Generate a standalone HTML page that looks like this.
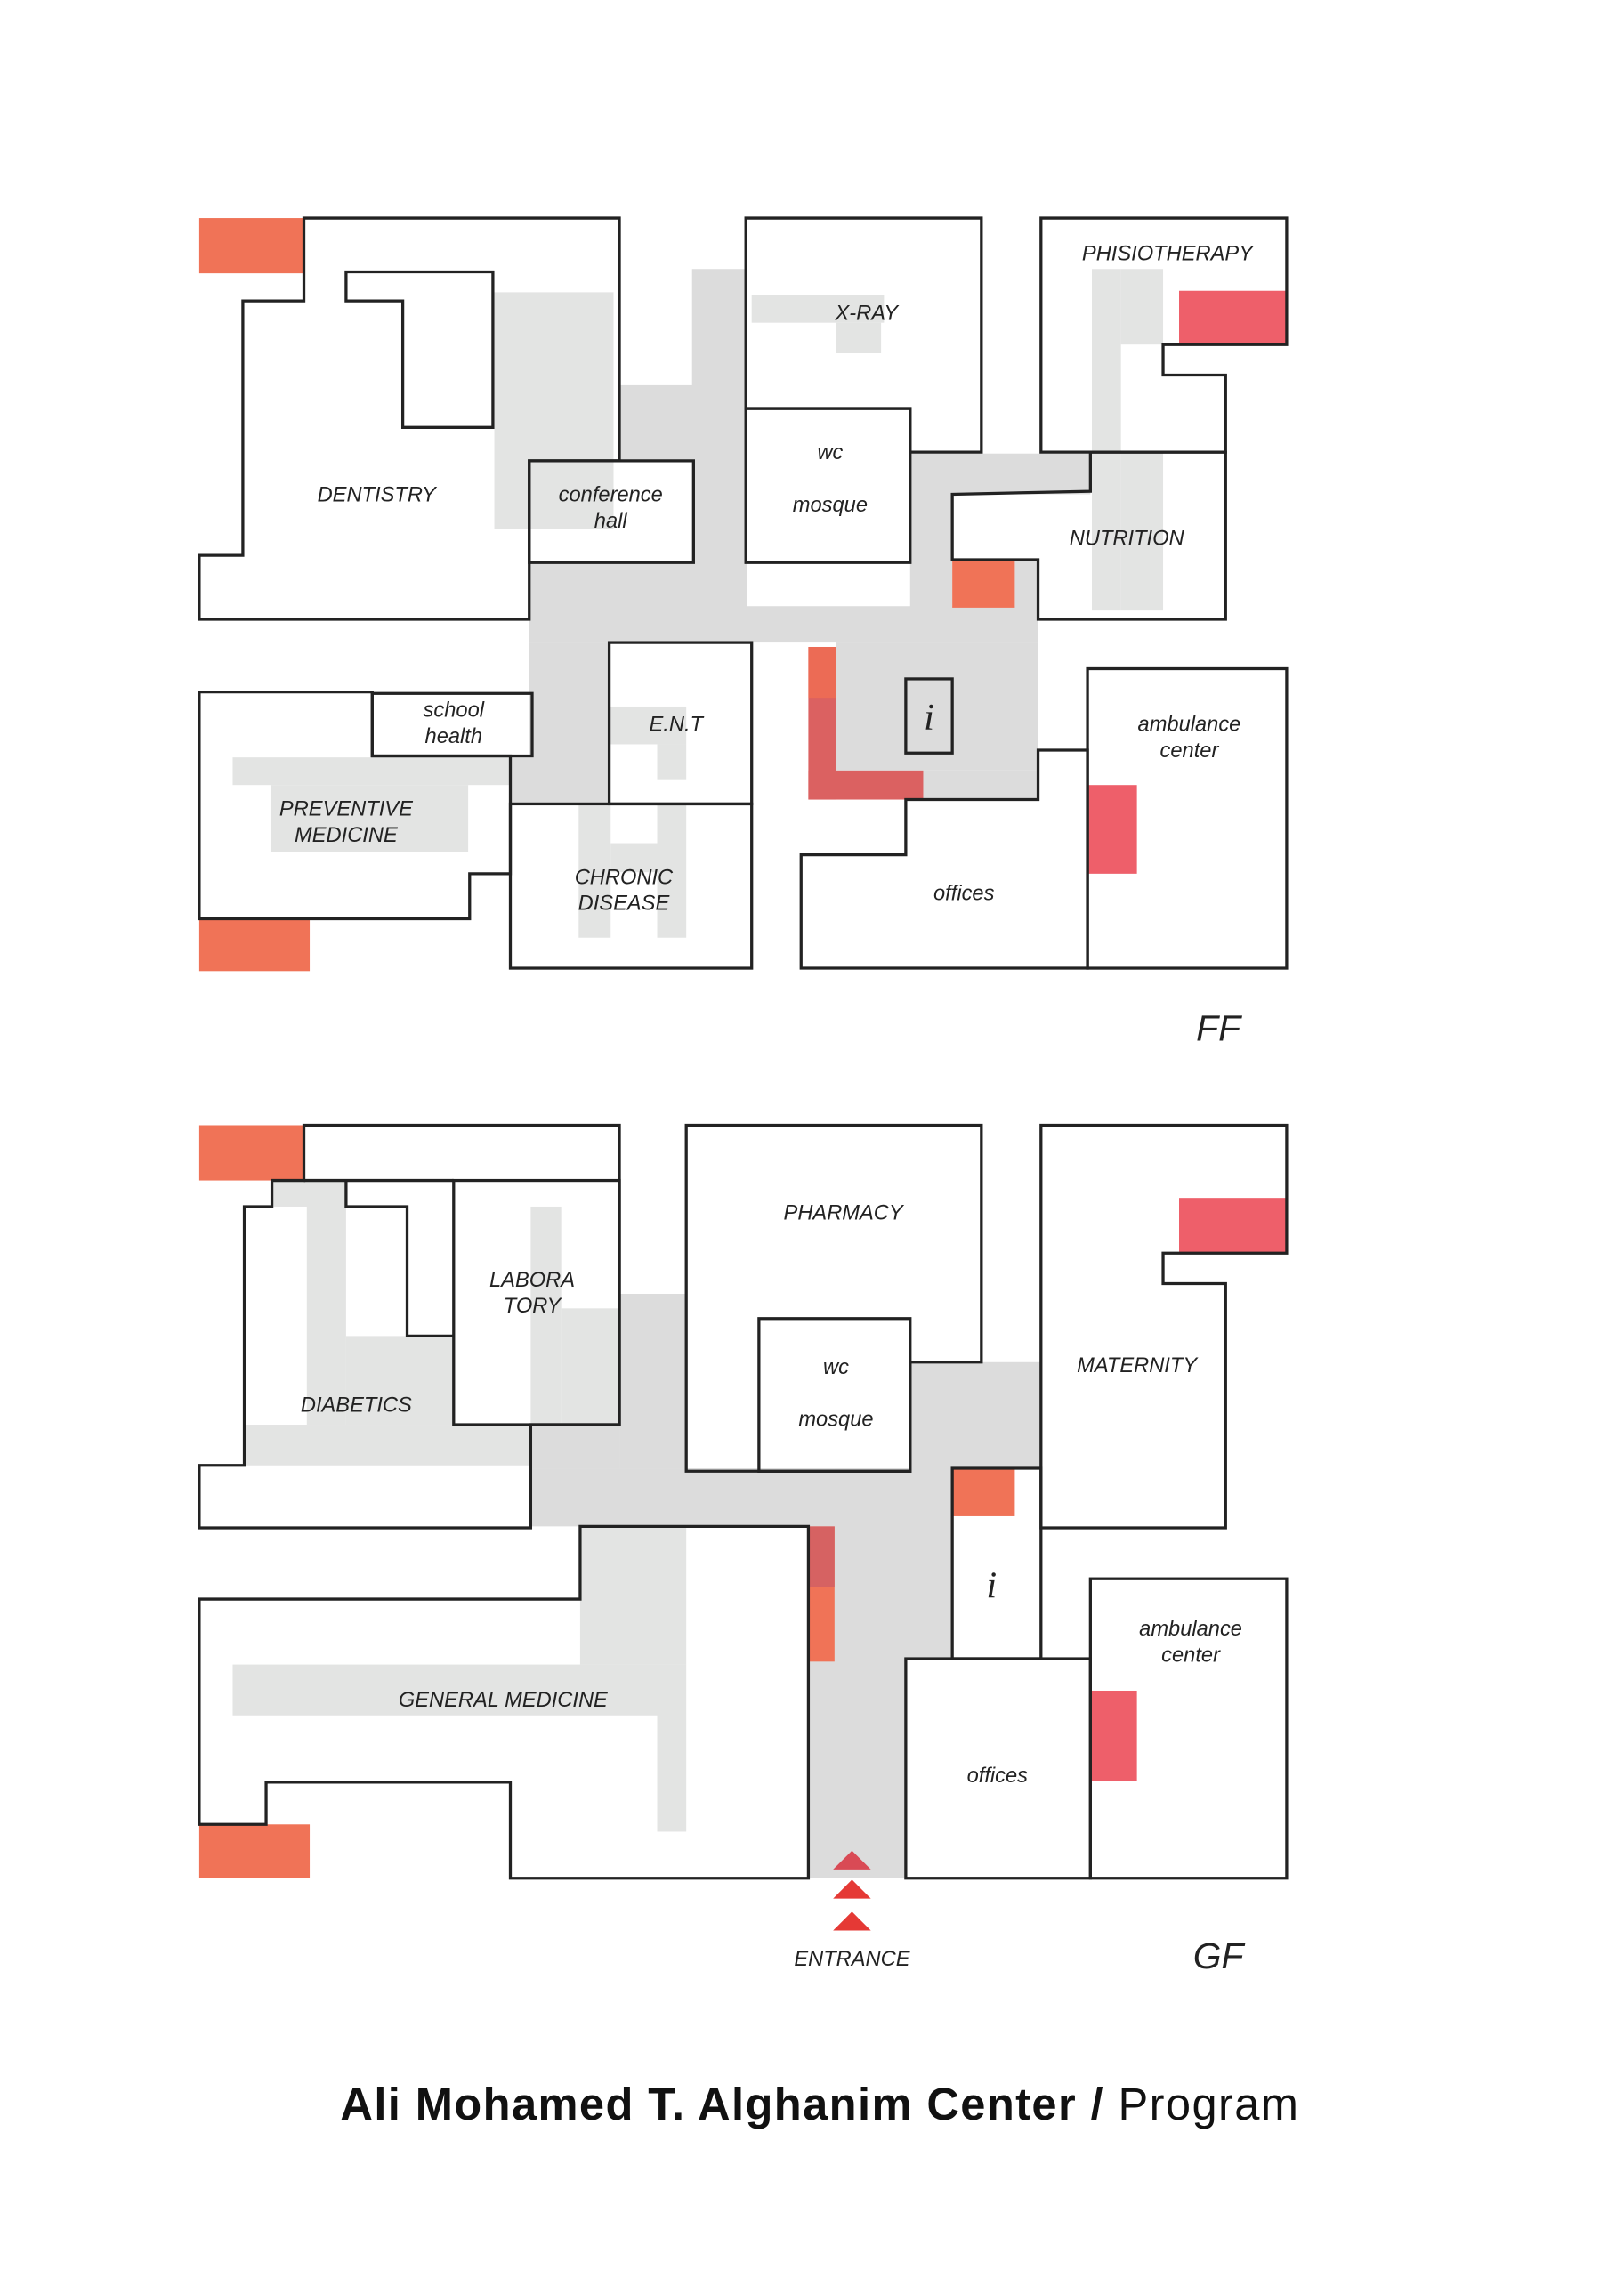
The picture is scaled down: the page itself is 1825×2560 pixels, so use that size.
<!DOCTYPE html>
<html><head><meta charset="utf-8"><style>html,body{margin:0;padding:0;background:#fff}svg{display:block}</style></head>
<body>
<svg width="1825" height="2560" viewBox="0 0 1117 1567" xmlns="http://www.w3.org/2000/svg" font-family="'Liberation Sans', sans-serif">
<rect width="1117" height="1567" fill="#fff"/>
<!-- ===== FF gray ===== -->
<g fill="#dcdcdc">
<rect x="340" y="201" width="82" height="163" fill="#e3e4e3"/>
<rect x="426" y="265" width="52" height="52"/>
<rect x="476" y="185" width="38" height="235"/>
<rect x="364" y="387" width="150" height="55"/>
<rect x="514" y="417" width="200" height="25"/>
<rect x="364" y="442" width="55" height="111"/>
<rect x="351" y="520" width="68" height="33"/>
<rect x="626" y="312" width="124" height="28"/>
<rect x="626" y="340" width="29" height="80"/>
<rect x="575" y="442" width="139" height="88"/>
<rect x="635" y="530" width="79" height="20"/>
<rect x="698" y="385" width="16" height="35"/>
</g>
<g fill="#e3e4e3">
<rect x="517" y="203" width="91" height="19"/>
<rect x="575" y="222" width="31" height="21"/>
<rect x="751" y="185" width="20" height="235"/>
<rect x="771" y="185" width="29" height="52"/>
<rect x="771" y="311" width="29" height="109"/>
<rect x="160" y="521" width="191" height="19"/>
<rect x="186" y="540" width="136" height="46"/>
<rect x="419" y="486" width="53" height="26"/>
<rect x="452" y="512" width="20" height="24"/>
<rect x="398" y="553" width="22" height="92"/>
<rect x="452" y="553" width="20" height="92"/>
<rect x="420" y="580" width="32" height="20"/>
</g>
<rect x="137" y="150" width="72" height="38" fill="#f07357"/>
<rect x="811" y="200" width="74" height="37" fill="#ee5f6a"/>
<rect x="655" y="385" width="43" height="33" fill="#f07357"/>
<rect x="137" y="632" width="76" height="36" fill="#f07357"/>
<rect x="556" y="445" width="19" height="105" fill="#db6161"/>
<rect x="556" y="530" width="79" height="20" fill="#db6161"/>
<rect x="556" y="445" width="19" height="35" fill="#ec6b55"/>
<rect x="748" y="540" width="34" height="61" fill="#ee5f6a"/>
<g fill="none" stroke="#222" stroke-width="2">
<polygon points="209,150 426,150 426,317 364,317 364,426 137,426 137,382 167,382 167,207 209,207"/>
<polygon points="238,187 339,187 339,294 277,294 277,207 238,207"/>
<rect x="364" y="317" width="113" height="70"/>
<polygon points="513,150 675,150 675,311 626,311 626,281 513,281"/>
<rect x="513" y="281" width="113" height="106"/>
<polygon points="716,150 885,150 885,237 800,237 800,258 843,258 843,311 716,311"/>
<polygon points="655,340 750,338 750,311 843,311 843,426 714,426 714,385 655,385"/>
<rect x="256" y="477" width="110" height="43"/>
<polygon points="137,476 256,476 256,520 351,520 351,601 323,601 323,632 137,632"/>
<rect x="419" y="442" width="98" height="111"/>
<rect x="351" y="553" width="166" height="113"/>
<rect x="623" y="467" width="32" height="51"/>
<polygon points="551,588 623,588 623,550 714,550 714,516 748,516 748,666 551,666"/>
<rect x="748" y="460" width="137" height="206"/>
</g>
<g font-style="italic" font-size="14.5" fill="#222" text-anchor="middle">
<text x="259" y="345">DENTISTRY</text>
<text x="420" y="345">conference</text><text x="420" y="363">hall</text>
<text x="596" y="220">X-RAY</text>
<text x="571" y="316">wc</text><text x="571" y="352">mosque</text>
<text x="803" y="179">PHISIOTHERAPY</text>
<text x="775" y="375">NUTRITION</text>
<text x="312" y="493">school</text><text x="312" y="511">health</text>
<text x="238" y="561">PREVENTIVE</text><text x="238" y="579">MEDICINE</text>
<text x="465" y="503">E.N.T</text>
<text x="429" y="608">CHRONIC</text><text x="429" y="626">DISEASE</text>
<text x="639" y="502" font-family="'Liberation Serif', serif" font-size="26">i</text>
<text x="818" y="503">ambulance</text><text x="818" y="521">center</text>
<text x="663" y="619">offices</text>
<text x="838" y="716" font-size="25">FF</text>
</g>
<!-- ===== GF ===== -->
<g fill="#dcdcdc">
<rect x="426" y="890" width="46" height="120"/>
<rect x="365" y="980" width="61" height="30"/>
<rect x="626" y="937" width="90" height="73"/>
<rect x="365" y="1010" width="290" height="40"/>
<rect x="556" y="1050" width="67" height="242"/>
<rect x="574" y="1010" width="81" height="131"/>
</g>
<g fill="#e3e4e3">
<rect x="187" y="812" width="51" height="18"/>
<rect x="211" y="830" width="27" height="150"/>
<rect x="238" y="919" width="74" height="61"/>
<rect x="168" y="980" width="197" height="28"/>
<rect x="365" y="830" width="21" height="150"/>
<rect x="386" y="900" width="40" height="80"/>
<rect x="399" y="1050" width="73" height="95"/>
<rect x="452" y="1145" width="20" height="115"/>
<rect x="160" y="1145" width="292" height="35"/>
</g>
<rect x="137" y="774" width="72" height="38" fill="#f07357"/>
<rect x="811" y="824" width="74" height="38" fill="#ee5f6a"/>
<rect x="655" y="1010" width="43" height="33" fill="#f07357"/>
<rect x="556" y="1050" width="18" height="93" fill="#f07357"/>
<rect x="556" y="1050" width="18" height="42" fill="#d66262"/>
<rect x="750" y="1163" width="32" height="62" fill="#ee5f6a"/>
<rect x="137" y="1255" width="76" height="37" fill="#f07357"/>
<g fill="none" stroke="#222" stroke-width="2">
<polygon points="209,774 426,774 426,980 365,980 365,1051 137,1051 137,1008 168,1008 168,830 187,830 187,812 209,812"/>
<polyline points="209,812 312,812"/>
<polyline points="238,812 238,830 280,830 280,919 312,919"/>
<rect x="312" y="812" width="114" height="168"/>
<polygon points="472,774 675,774 675,937 626,937 626,1012 472,1012"/>
<rect x="522" y="907" width="104" height="105"/>
<polygon points="716,774 885,774 885,862 800,862 800,883 843,883 843,1051 716,1051"/>
<polygon points="137,1100 399,1100 399,1050 556,1050 556,1292 351,1292 351,1226 183,1226 183,1255 137,1255"/>
<polygon points="655,1010 716,1010 716,1141 655,1141"/>
<rect x="623" y="1141" width="127" height="151"/>
<rect x="750" y="1086" width="135" height="206"/>
</g>
<g fill="#e53935">
<polygon points="573,1286 586,1273 599,1286" fill="#d94a55"/>
<polygon points="573,1306 586,1293 599,1306"/>
<polygon points="573,1328 586,1315 599,1328"/>
</g>
<g font-style="italic" font-size="14.5" fill="#222" text-anchor="middle">
<text x="580" y="839">PHARMACY</text>
<text x="366" y="885">LABORA</text><text x="366" y="903">TORY</text>
<text x="245" y="971">DIABETICS</text>
<text x="575" y="945">wc</text><text x="575" y="981">mosque</text>
<text x="782" y="944">MATERNITY</text>
<text x="346" y="1174">GENERAL MEDICINE</text>
<text x="682" y="1099" font-family="'Liberation Serif', serif" font-size="26">i</text>
<text x="819" y="1125">ambulance</text><text x="819" y="1143">center</text>
<text x="686" y="1226">offices</text>
<text x="586" y="1352">ENTRANCE</text>
<text x="838" y="1354" font-size="25">GF</text>
</g>
<text x="234" y="1458" font-size="31" fill="#111" textLength="659" lengthAdjust="spacing"><tspan font-weight="bold">Ali Mohamed T. Alghanim Center  /</tspan><tspan> Program</tspan></text>
</svg>
</body></html>
